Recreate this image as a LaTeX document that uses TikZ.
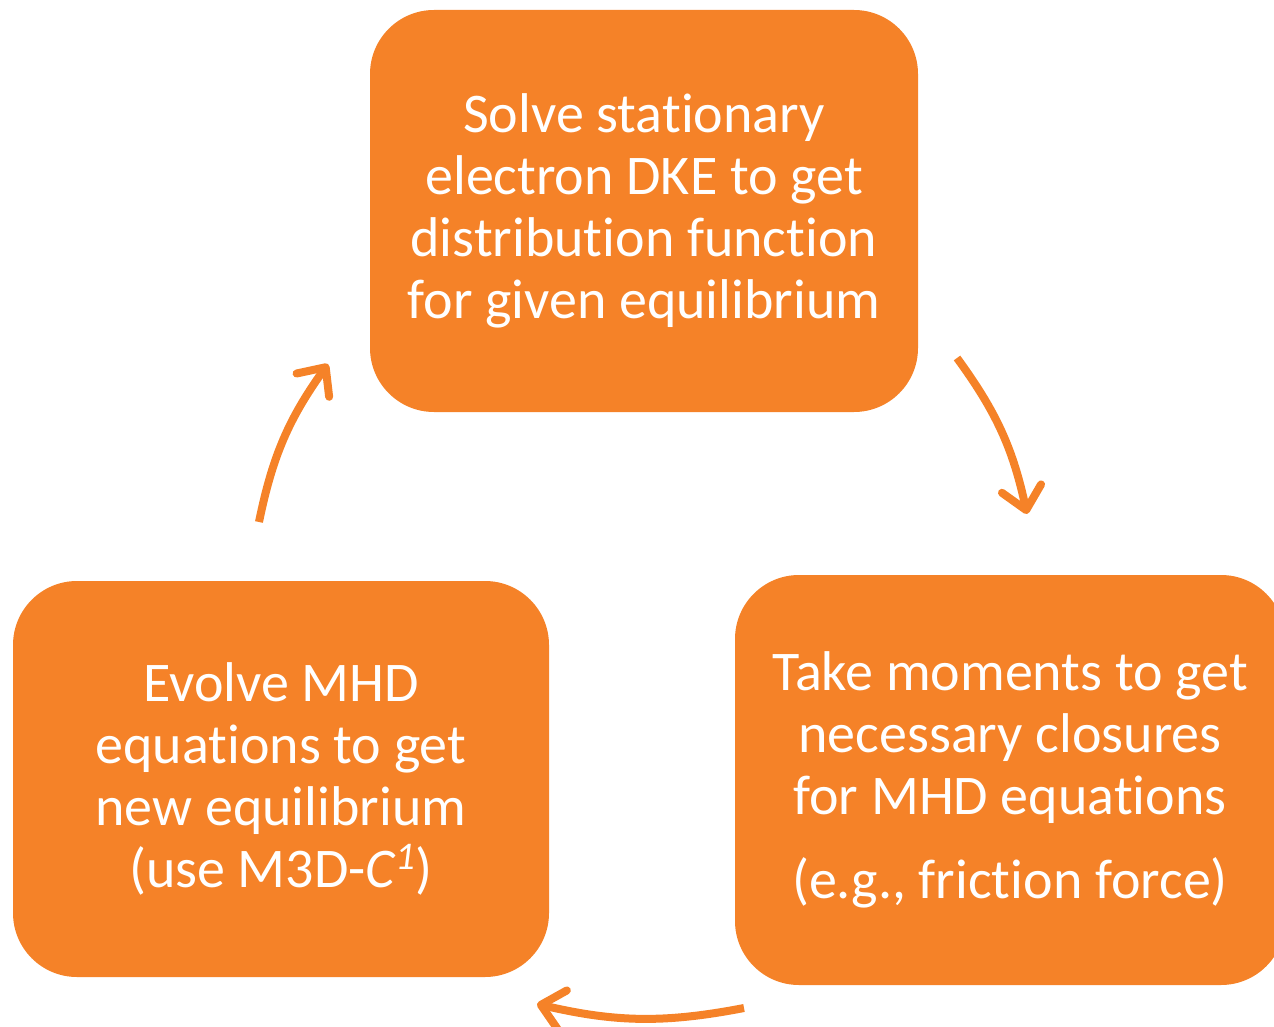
\documentclass[tikz,border=0pt]{standalone}
\usepackage{fontspec}
\setmainfont{Carlito}[Ligatures=NoCommon]
\usetikzlibrary{arrows.meta}
\definecolor{boxorange}{RGB}{245,130,40}

\begin{document}
\begin{tikzpicture}[x=0.5pt, y=-0.5pt,
stepbox/.style={rounded corners=32pt, fill=boxorange, text=white, align=center, inner sep=0pt, font=\fontsize{28}{31}\selectfont},
cyclearrow/.style={draw=boxorange, line width=4pt, -{Straight Barb[length=11pt, width=20pt, round]}}]
\useasboundingbox (0,0) rectangle (1274,1027);
\node[stepbox, minimum width=274pt, minimum height=201pt] (solve) at (644,211) {Solve stationary\\electron DKE to get\\distribution function\\for given equilibrium};
\node[stepbox, minimum width=275pt, minimum height=205pt] (moments) at (1010,780) {Take moments to get\\necessary closures\\for MHD equations\\[11pt](e.g., friction force)};
\node[stepbox, minimum width=268pt, minimum height=198pt] (evolve) at (281,779) {Evolve MHD\\equations to get\\new equilibrium\\(use M3D-\textit{C\textsuperscript{1}})};
% arrows round the cycle
\coordinate (a1s) at (957,358);
\coordinate (a1e) at (1027,514);
\coordinate (a2s) at (744,1008);
\coordinate (a2e) at (537,1004);
\coordinate (a3s) at (259,522);
\coordinate (a3e) at (328,364);
\draw[cyclearrow] (a1s) to[bend left=12] (a1e);
\draw[cyclearrow] (a2s) to[bend left=12] (a2e);
\draw[cyclearrow] (a3s) to[bend left=12] (a3e);
\end{tikzpicture}
\end{document}
